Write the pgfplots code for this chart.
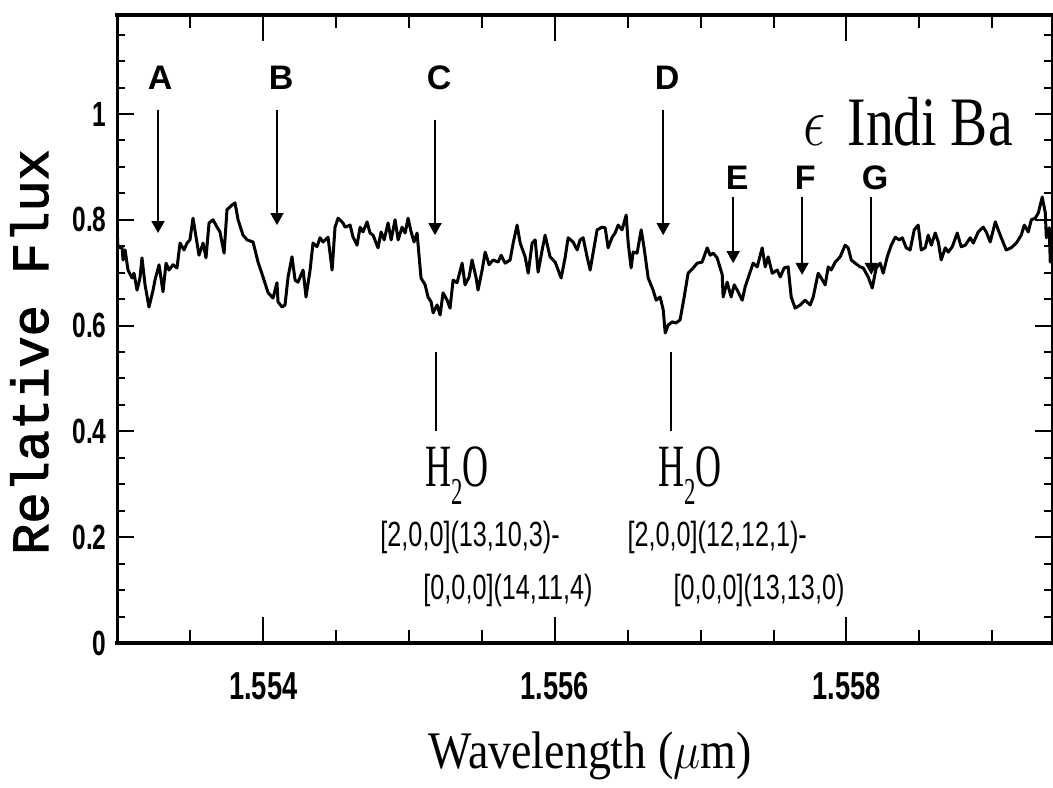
\RequirePackage{fix-cm}
\documentclass[border=0pt]{standalone}
\usepackage{fontspec}
\setmainfont{Liberation Serif}
\newfontfamily\condsans[FakeStretch=0.72]{Liberation Sans}
\newfontfamily\tickfont[FakeStretch=0.7]{Liberation Sans}
\newfontfamily\plainsans{Liberation Sans}
\newfontfamily\labmono[FakeBold=2]{Liberation Mono}
\usepackage{graphicx}
\usepackage{pgfplots}
\pgfplotsset{compat=1.18}
\usetikzlibrary{arrows.meta}

% spectrum of eps Indi Ba
\pgfplotstableread{
x y
1.553000 0.766
1.553003 0.747
1.553031 0.749
1.553038 0.724
1.553052 0.743
1.553072 0.705
1.553100 0.690
1.553113 0.699
1.553134 0.667
1.553154 0.690
1.553168 0.728
1.553189 0.677
1.553216 0.635
1.553244 0.667
1.553257 0.686
1.553285 0.715
1.553312 0.664
1.553333 0.718
1.553353 0.705
1.553381 0.715
1.553408 0.709
1.553429 0.756
1.553456 0.743
1.553477 0.756
1.553497 0.762
1.553518 0.803
1.553539 0.767
1.553559 0.733
1.553587 0.756
1.553607 0.728
1.553628 0.794
1.553655 0.800
1.553683 0.786
1.553703 0.777
1.553731 0.737
1.553751 0.819
1.553786 0.828
1.553806 0.832
1.553827 0.800
1.553861 0.771
1.553889 0.762
1.553930 0.758
1.553964 0.720
1.553998 0.692
1.554033 0.662
1.554067 0.652
1.554094 0.681
1.554101 0.645
1.554129 0.635
1.554149 0.639
1.554170 0.692
1.554197 0.730
1.554218 0.686
1.554238 0.682
1.554273 0.705
1.554293 0.654
1.554321 0.705
1.554341 0.756
1.554369 0.749
1.554389 0.766
1.554410 0.758
1.554444 0.767
1.554472 0.705
1.554492 0.786
1.554513 0.803
1.554547 0.794
1.554561 0.786
1.554595 0.790
1.554616 0.767
1.554643 0.752
1.554664 0.786
1.554684 0.777
1.554712 0.796
1.554732 0.775
1.554753 0.771
1.554787 0.747
1.554808 0.777
1.554829 0.762
1.554856 0.794
1.554877 0.762
1.554904 0.800
1.554925 0.762
1.554952 0.786
1.554973 0.775
1.554993 0.803
1.555014 0.777
1.555034 0.758
1.555055 0.775
1.555069 0.730
1.555082 0.690
1.555110 0.677
1.555130 0.654
1.555151 0.645
1.555165 0.624
1.555192 0.639
1.555213 0.620
1.555233 0.662
1.555261 0.648
1.555281 0.633
1.555302 0.686
1.555329 0.681
1.555364 0.718
1.555384 0.677
1.555412 0.692
1.555432 0.724
1.555460 0.690
1.555473 0.667
1.555501 0.705
1.555522 0.739
1.555549 0.715
1.555576 0.724
1.555611 0.720
1.555631 0.733
1.555659 0.718
1.555693 0.724
1.555714 0.756
1.555741 0.790
1.555762 0.756
1.555796 0.730
1.555817 0.699
1.555844 0.756
1.555865 0.762
1.555885 0.701
1.555913 0.743
1.555933 0.771
1.555967 0.730
1.556002 0.720
1.556043 0.690
1.556070 0.728
1.556091 0.766
1.556125 0.758
1.556153 0.743
1.556173 0.762
1.556194 0.766
1.556221 0.730
1.556242 0.705
1.556262 0.737
1.556290 0.781
1.556324 0.786
1.556345 0.785
1.556365 0.747
1.556393 0.767
1.556413 0.775
1.556434 0.790
1.556461 0.781
1.556489 0.809
1.556503 0.756
1.556523 0.709
1.556537 0.739
1.556564 0.737
1.556592 0.781
1.556612 0.747
1.556640 0.690
1.556674 0.667
1.556695 0.648
1.556722 0.654
1.556743 0.630
1.556757 0.586
1.556777 0.601
1.556805 0.607
1.556832 0.605
1.556859 0.611
1.556887 0.654
1.556914 0.699
1.556949 0.709
1.556976 0.718
1.557010 0.720
1.557045 0.747
1.557065 0.733
1.557086 0.737
1.557113 0.728
1.557148 0.696
1.557154 0.654
1.557182 0.682
1.557209 0.654
1.557230 0.677
1.557251 0.667
1.557285 0.648
1.557305 0.673
1.557333 0.696
1.557360 0.718
1.557388 0.711
1.557422 0.747
1.557443 0.711
1.557463 0.730
1.557491 0.699
1.557525 0.705
1.557546 0.692
1.557573 0.709
1.557600 0.711
1.557621 0.654
1.557648 0.633
1.557683 0.639
1.557717 0.648
1.557751 0.639
1.557772 0.654
1.557806 0.699
1.557827 0.690
1.557854 0.677
1.557875 0.711
1.557895 0.705
1.557923 0.720
1.557957 0.730
1.557991 0.752
1.558012 0.747
1.558033 0.724
1.558060 0.718
1.558094 0.711
1.558115 0.709
1.558149 0.692
1.558177 0.671
1.558204 0.709
1.558232 0.718
1.558252 0.699
1.558280 0.730
1.558307 0.752
1.558335 0.767
1.558362 0.762
1.558383 0.766
1.558410 0.747
1.558437 0.743
1.558465 0.781
1.558492 0.790
1.558513 0.743
1.558540 0.747
1.558561 0.771
1.558582 0.752
1.558609 0.775
1.558630 0.758
1.558650 0.724
1.558678 0.747
1.558698 0.739
1.558726 0.749
1.558760 0.775
1.558787 0.749
1.558815 0.752
1.558849 0.766
1.558870 0.756
1.558904 0.777
1.558938 0.786
1.558959 0.777
1.558986 0.758
1.559021 0.796
1.559041 0.781
1.559062 0.766
1.559096 0.743
1.559130 0.747
1.559165 0.756
1.559199 0.771
1.559220 0.790
1.559247 0.777
1.559268 0.800
1.559295 0.803
1.559316 0.813
1.559343 0.843
1.559364 0.813
1.559371 0.766
1.559391 0.785
1.559398 0.720
1.559410 0.749
}\spectrum

\begin{document}
\begin{tikzpicture}
\begin{axis}[
  name=ax,
  scale only axis,
  width=467.25pt, height=314pt,
  xmin=1.553, xmax=1.55941,
  ymin=0, ymax=1.1871,
  clip=false,
  xtick={1.554,1.556,1.558},
  minor xtick={1.5535,1.5545,1.555,1.5555,1.5565,1.557,1.5575,1.5585,1.559},
  ytick={0,0.2,0.4,0.6,0.8,1},
  minor ytick={0.05,0.1,0.15,0.25,0.3,0.35,0.45,0.5,0.55,0.65,0.7,0.75,0.85,0.9,0.95,1.05,1.1,1.15},
  scaled x ticks=false,
  tick align=inside,
  major tick length=8.5pt, minor tick length=4pt,
  xtick style={/pgfplots/major tick length=13pt, /pgfplots/minor tick length=6.5pt},
  tick style={line width=1pt, black},
  separate axis lines,
  x axis line style={line width=2pt, line cap=rect},
  y axis line style={line width=1.2pt, line cap=rect},
  xticklabel style={font=\tickfont\bfseries\fontsize{19.5}{19.5}\selectfont, anchor=center, inner sep=0pt, yshift=-21.5pt,
    /pgf/number format/.cd, fixed, fixed zerofill, precision=3, assume math mode=true},
  yticklabel style={font=\tickfont\bfseries\fontsize{17.5}{17.5}\selectfont, anchor=east, inner sep=0pt, xshift=-5.25pt,
    /pgf/number format/assume math mode=true},
  xlabel={\scalebox{0.87}[1]{\fontsize{26.4}{26.4}\selectfont Wavelength ($\mu$m)}},
  xlabel style={at={([yshift=-62.5pt]axis description cs:0.5056,0)}, anchor=base},
  ylabel={\labmono\fontsize{26}{26}\selectfont Relative Flux},
  ylabel style={at={([xshift=-34.75pt]axis description cs:0,0.4634)}, anchor=base},
]
\addplot[black, line width=1.5pt, line join=round, mark=none] table[x=x, y=y] {\spectrum};

% line markers A-G
\tikzset{mk/.style={line width=0.8pt, -{Triangle[width=6.5pt,length=6pt]}},
         lt/.style={font=\plainsans\bfseries\fontsize{17}{17}\selectfont}}
\draw[mk] (axis cs:1.553278,1.008) -- (axis cs:1.553278,0.775);
\draw[mk] (axis cs:1.554094,1.008) -- (axis cs:1.554094,0.790);
\draw[mk] (axis cs:1.555178,0.989) -- (axis cs:1.555178,0.771);
\draw[mk] (axis cs:1.556743,1.008) -- (axis cs:1.556743,0.771);
\draw[mk] (axis cs:1.557223,0.843) -- (axis cs:1.557223,0.718);
\draw[mk] (axis cs:1.557696,0.843) -- (axis cs:1.557696,0.696);
\draw[mk] (axis cs:1.558170,0.843) -- (axis cs:1.558170,0.696);
\node[lt] at (axis cs:1.553292,1.068) {A};
\node[lt] at (axis cs:1.554122,1.068) {B};
\node[lt] at (axis cs:1.555206,1.068) {C};
\node[lt] at (axis cs:1.556770,1.068) {D};
\node[lt] at (axis cs:1.557250,0.879) {E};
\node[lt] at (axis cs:1.557717,0.879) {F};
\node[lt] at (axis cs:1.558197,0.879) {G};

% water line identifications
\draw[line width=0.8pt] (axis cs:1.555185,0.550) -- (axis cs:1.555185,0.401);
\draw[line width=0.8pt] (axis cs:1.556798,0.550) -- (axis cs:1.556798,0.401);
\node[anchor=base west, inner sep=0pt] at (axis cs:1.555110,0.295)
  {\scalebox{0.6}[1]{\fontsize{30}{30}\selectfont H\raisebox{-0.3em}{\fontsize{19}{19}\selectfont 2}O}};
\node[anchor=base west, inner sep=0pt] at (axis cs:1.556708,0.295)
  {\scalebox{0.6}[1]{\fontsize{30}{30}\selectfont H\raisebox{-0.3em}{\fontsize{19}{19}\selectfont 2}O}};
\node[anchor=west, inner sep=0pt, font=\condsans\fontsize{17.5}{17.5}\selectfont] at (axis cs:1.554801,0.200) {[2,0,0](13,10,3)-};
\node[anchor=west, inner sep=0pt, font=\condsans\fontsize{17.5}{17.5}\selectfont] at (axis cs:1.555096,0.100) {[0,0,0](14,11,4)};
\node[anchor=west, inner sep=0pt, font=\condsans\fontsize{17.5}{17.5}\selectfont] at (axis cs:1.556496,0.200) {[2,0,0](12,12,1)-};
\node[anchor=west, inner sep=0pt, font=\condsans\fontsize{17.5}{17.5}\selectfont] at (axis cs:1.556811,0.100) {[0,0,0](13,13,0)};

% object name
\node[anchor=base west, inner sep=0pt] at (axis cs:1.557703,0.941)
  {\scalebox{0.8}[1]{\fontsize{34.7}{34.7}\selectfont$\epsilon$\hspace{0.15em} Indi Ba}};
\end{axis}
\pgfresetboundingbox
\path ([xshift=-58.75pt,yshift=-72pt]ax.south west) rectangle ([xshift=0.5pt,yshift=7.5pt]ax.north east);
\end{tikzpicture}
\end{document}
